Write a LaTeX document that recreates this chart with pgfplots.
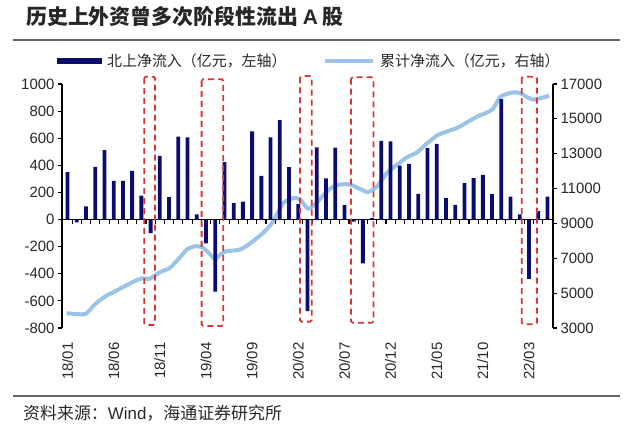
\documentclass[border=0pt]{standalone}
\usepackage{pgfplots}
\pgfplotsset{compat=1.18}
\usepackage{fontspec}
\setmainfont{Liberation Sans}
\newfontfamily\cjk{Noto Sans CJK SC}
\definecolor{navy}{RGB}{12,12,110}
\definecolor{lblue}{RGB}{155,195,232}
\definecolor{boxred}{RGB}{215,55,55}
\definecolor{txt}{RGB}{40,40,40}
\pgfplotstableread{
x y
0 350
1 -20
2 98
3 389
4 512
5 286
6 286
7 360
8 177
9 -101
10 470
11 165
12 611
13 606
14 39
15 -175
16 -532
17 424
18 121
19 133
20 650
21 323
22 606
23 734
24 387
25 113
26 -675
27 532
28 303
29 530
30 106
31 -15
32 -323
33 10
34 581
35 576
36 397
37 411
38 190
39 527
40 559
41 158
42 108
43 268
44 305
45 330
46 187
47 889
48 170
49 39
50 -437
51 62
52 170
}\flows
\pgfplotstableread{
x y
-0.11 3850
0.90 3800
1.98 3820
2.96 4350
4.04 4800
5.13 5100
6.21 5400
7.30 5700
8.16 5850
8.71 5800
9.14 5900
10.01 6200
11.09 6450
12.17 7050
13.04 7550
14.02 7700
14.67 7600
15.32 7300
15.97 6950
16.51 7200
17.17 7400
18.68 7500
19.77 7850
21.18 8450
22.26 9100
23.34 10150
24.43 10450
25.19 10380
26.05 9850
26.81 10100
27.36 10400
28.44 11000
29.53 11230
30.61 11230
31.70 10980
32.56 10800
33.54 11130
34.63 11900
35.71 12370
36.79 12800
37.88 13080
38.96 13600
40.05 14050
41.13 14280
42.21 14480
43.29 14800
44.38 15130
45.46 15370
46.11 15580
46.87 16250
47.63 16430
48.28 16520
49.04 16480
49.79 16250
50.44 16100
51.20 16180
52.17 16320
}\cumul
\begin{document}
\begin{tikzpicture}
\useasboundingbox (0bp,0bp) rectangle (640bp,434bp);
% title
\node[anchor=west, inner sep=0pt, text=black!85] at (26bp,417bp) {\cjk\bfseries\fontsize{21}{24}\selectfont 历史上外资曾多次阶段性流出 {\fontspec{Liberation Sans}\bfseries A} 股};
\draw[black!60, line width=1.6bp] (13bp,394bp) -- (620bp,394bp);
\draw[black!60, line width=1.6bp] (13bp,38bp) -- (620bp,38bp);
\node[anchor=west, inner sep=0pt, text=txt] at (23bp,20.7bp) {\fontsize{17}{20}\selectfont{\cjk 资料来源：}Wind{\cjk ，海通证券研究所}};
% legend
\fill[navy] (56.7bp,370bp) rectangle (101.7bp,376bp);
\node[anchor=west, inner sep=0pt, text=txt] at (107bp,373bp) {\cjk\fontsize{15}{18}\selectfont 北上净流入（亿元，左轴）};
\draw[lblue, line width=4bp] (325bp,373bp) -- (373bp,373bp);
\node[anchor=west, inner sep=0pt, text=txt] at (380bp,373bp) {\cjk\fontsize{15}{18}\selectfont 累计净流入（亿元，右轴）};
% line axis (right)
\begin{axis}[at={(62bp,106bp)}, anchor=south west, scale only axis,
  width=491bp, height=244bp,
  xmin=-0.6, xmax=52.6, ymin=3000, ymax=17000,
  axis x line*=bottom, axis y line*=right,
  x axis line style={draw=none},
  y axis line style={black, line width=1.1bp},
  xtick={0,5,...,50},
  xticklabels={18/01,18/06,18/11,19/04,19/09,20/02,20/07,20/12,21/05,21/10,22/03},
  major x tick style={draw=none},
  ytick={3000,5000,...,17000},
  tick align=outside,
  major tick length=4bp,
  major y tick style={black, line width=1.1bp},
  scaled y ticks=false,
  /pgf/number format/1000 sep={},
  /pgf/number format/assume math mode=true,
  tick label style={font=\fontsize{15}{18}\selectfont, text=txt},
  xticklabel style={yshift=-7bp, rotate=90, anchor=east},
  clip=false,
]
\addplot[lblue, line width=4bp, smooth, tension=0.4, line join=round] table[x=x,y=y] {\cumul};
\end{axis}
% bar axis (left)
\begin{axis}[at={(62bp,106bp)}, anchor=south west, scale only axis,
  width=491bp, height=244bp,
  xmin=-0.6, xmax=52.6, ymin=-800, ymax=1000,
  axis x line*=middle, axis y line*=left,
  axis line style={black, line width=1.1bp},
  xtick={-0.5,0.5,...,52.5},
  xticklabels={},
  ytick={-800,-600,...,1000},
  tick align=outside,
  major tick length=4bp,
  major tick style={black, line width=1.1bp},
  scaled y ticks=false,
  /pgf/number format/1000 sep={},
  /pgf/number format/assume math mode=true,
  tick label style={font=\fontsize{15}{18}\selectfont, text=txt},
  clip=false,
]
\addplot[ybar, bar width=3.8bp, fill=navy, draw=none, bar shift=0pt] table[x=x,y=y] {\flows};
\draw[boxred, line width=1.8bp, dash pattern=on 6bp off 4bp, rounded corners=1.5bp] (axis cs:8.31,1054) rectangle (axis cs:9.47,-777);
\draw[boxred, line width=1.8bp, dash pattern=on 6bp off 4bp, rounded corners=1.5bp] (axis cs:14.53,1035) rectangle (axis cs:16.87,-785);
\draw[boxred, line width=1.8bp, dash pattern=on 6bp off 4bp, rounded corners=1.5bp] (axis cs:25.19,1059) rectangle (axis cs:26.46,-753);
\draw[boxred, line width=1.8bp, dash pattern=on 6bp off 4bp, rounded corners=1.5bp] (axis cs:30.72,1050) rectangle (axis cs:33.14,-761);
\draw[boxred, line width=1.8bp, dash pattern=on 6bp off 4bp, rounded corners=1.5bp] (axis cs:49.22,1054) rectangle (axis cs:50.85,-772);
\end{axis}
\end{tikzpicture}
\end{document}
